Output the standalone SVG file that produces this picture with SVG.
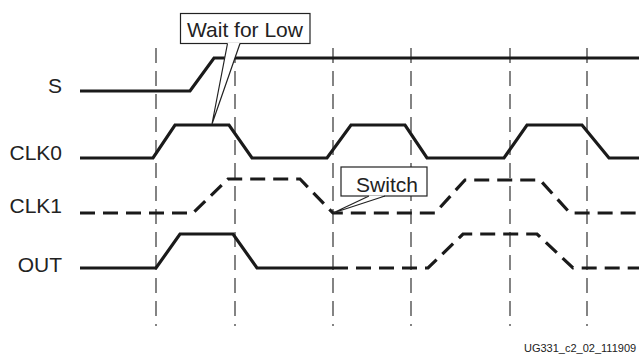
<svg xmlns="http://www.w3.org/2000/svg" width="639" height="362" viewBox="0 0 639 362">
<style>
text{font-family:"Liberation Sans",Arial,sans-serif;fill:#222}
.lbl{font-size:21px;text-anchor:end}
.sig{fill:none;stroke:#1a1a1a;stroke-width:3.2;stroke-linejoin:miter}
.dsig{fill:none;stroke:#1a1a1a;stroke-width:3.2;stroke-dasharray:15 8}
.grid{stroke:#333;stroke-width:1.2;stroke-dasharray:15 8}
.box{fill:#fff;stroke:#222;stroke-width:1.2}
</style>
<rect width="639" height="362" fill="#fff"/>
<g id="gridlines">
<line class="grid" x1="156" y1="48" x2="156" y2="326"/>
<line class="grid" x1="235" y1="48" x2="235" y2="326"/>
<line class="grid" x1="333" y1="48" x2="333" y2="326"/>
<line class="grid" x1="411" y1="48" x2="411" y2="326"/>
<line class="grid" x1="510" y1="48" x2="510" y2="326"/>
<line class="grid" x1="587" y1="48" x2="587" y2="326"/>
</g>
<g id="labels">
<text class="lbl" x="62" y="93">S</text>
<text class="lbl" x="62" y="160">CLK0</text>
<text class="lbl" x="62" y="213">CLK1</text>
<text class="lbl" x="62" y="271.5">OUT</text>
</g>
<g id="connectors">
<path id="S" class="sig" d="M80,91 L190,91 L214,58 L639,58"/>
<path id="CLK0" class="sig" d="M80,158 L153,158 L175,125 L229,125 L252,158 L327,158 L351,125 L405,125 L427,158 L504,158 L527,125 L582,125 L609,158 L639,158"/>
<path id="CLK1" class="dsig" d="M80,213 L193,213 L228,179 L300,179 L333,213 L435,213 L465,180 L540,180 L570,213 L639,213"/>
<path id="OUT" class="sig" d="M80,268 L156,268 L180,234 L233,234 L257,268 L333,268"/>
<path id="OUT2" class="dsig" d="M333,268 L428,268 L463,234 L537,234 L573,268 L639,268"/>
</g>
<g id="callout-wait">
<rect class="box" x="180.5" y="13.5" width="129.5" height="30"/>
<polygon points="227.5,43 212,124 240,43" fill="#fff"/>
<path d="M227.5,43.5 L212,124 L240,43.5" fill="none" stroke="#222" stroke-width="1.2"/>
<text x="245" y="37" font-size="21" text-anchor="middle">Wait for Low</text>
</g>
<g id="callout-switch">
<rect class="box" x="341" y="167" width="86" height="29"/>
<polygon points="369,195.5 333,213 385,195.5" fill="#fff"/>
<path d="M369,196 L333,213 L385,196" fill="none" stroke="#222" stroke-width="1.2"/>
<text x="387" y="191.5" font-size="21" text-anchor="middle">Switch</text>
</g>
<text x="524" y="352" font-size="11">UG331_c2_02_111909</text>
</svg>
